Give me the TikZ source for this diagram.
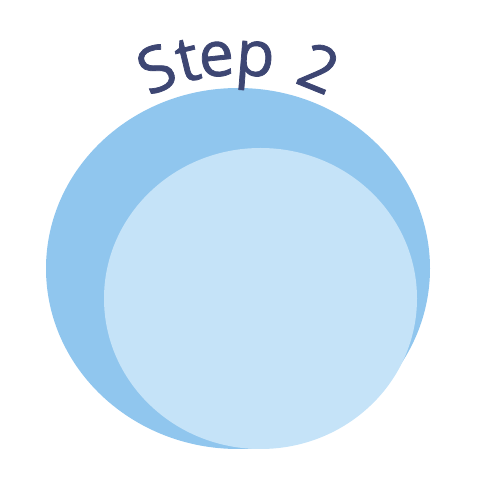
\documentclass[tikz,border=0pt]{standalone}
\usepackage{fontspec}
\setmainfont{Open Sans}
\newfontfamily\stepfont[FakeBold=1.2]{Open Sans}
\usetikzlibrary{calc}
\definecolor{outerc}{HTML}{90C6EE}
\definecolor{innerc}{HTML}{C5E3F8}
\definecolor{stepc}{HTML}{3D4673}
\begin{document}
\begin{tikzpicture}[x=1pt,y=1pt,
  glyph/.style={anchor=base, inner sep=0pt, text=stepc, font=\stepfont\fontsize{63}{70}\selectfont, rotate=#1-90}]
\useasboundingbox (0,0) rectangle (496,501);
\fill[outerc] (238,232.5) ellipse[x radius=192, y radius=180.5];
\fill[innerc] (260.5,202.5) ellipse[x radius=156.5, y radius=150.5];
\coordinate (c) at (238,233);
\node[glyph=112.3] (l1) at ($(c)+(112.3:193)$) {S};
\node[glyph=103.6] (l2) at ($(c)+(103.6:193)$) {t};
\node[glyph=95.9] (l3) at ($(c)+(95.9:193)$) {e};
\node[glyph=85.3] (l4) at ($(c)+(85.3:193)$) {p};
\node[glyph=68.0] (l5) at ($(c)+(68.0:193)$) {2};
\end{tikzpicture}
\end{document}
